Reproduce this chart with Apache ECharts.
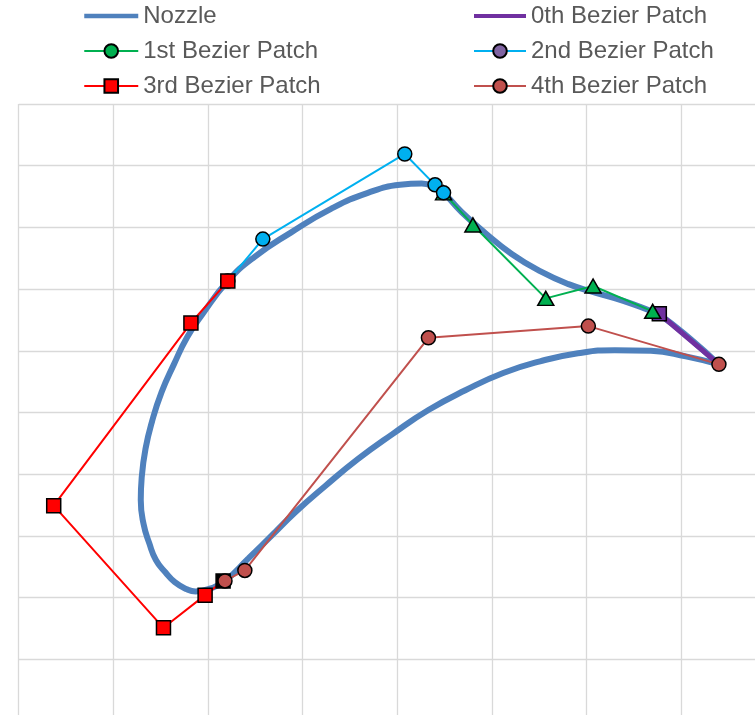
<!DOCTYPE html>
<html>
<head>
<meta charset="utf-8">
<script src="https://cdn.jsdelivr.net/npm/echarts@6/dist/echarts.min.js"></script>
<style>
  html, body { margin: 0; padding: 0; background: #ffffff; }
  #chart { width: 755px; height: 715px; }
</style>
</head>
<body>
<div id="chart"></div>
<script>
// Series names, in drawing order
const seriesNames = ['Nozzle', '0th Bezier Patch', '1st Bezier Patch',
                     '2nd Bezier Patch', '3rd Bezier Patch', '4th Bezier Patch'];

// Nozzle profile: trailing edge -> suction side -> leading edge -> pressure side -> trailing edge
const nozzle = [
  [7.40, 5.78], [7.10, 6.19], [6.77, 6.59], [6.69, 6.64], [6.39, 6.81],
  [6.10, 6.94], [5.81, 7.08], [5.51, 7.29], [5.21, 7.57], [4.93, 7.91],
  [4.68, 8.25], [4.49, 8.56], [4.41, 8.64], [4.26, 8.71], [4.03, 8.69],
  [3.69, 8.56], [3.30, 8.30], [2.88, 7.92], [2.49, 7.52], [2.21, 7.13],
  [1.94, 6.59], [1.78, 6.22], [1.64, 5.78], [1.51, 5.33], [1.41, 4.86],
  [1.34, 4.41], [1.30, 3.95], [1.29, 3.58], [1.32, 3.19], [1.38, 2.88],
  [1.45, 2.61], [1.55, 2.41], [1.65, 2.25], [1.77, 2.14], [1.87, 2.10],
  [2.03, 2.15], [2.18, 2.27], [2.43, 2.64], [2.67, 3.00], [2.92, 3.38],
  [3.24, 3.81], [3.58, 4.24], [3.95, 4.65], [4.33, 5.04], [4.72, 5.36],
  [5.12, 5.64], [5.51, 5.83], [5.91, 5.96], [6.30, 6.01], [6.68, 6.00],
  [7.05, 5.91], [7.40, 5.78]
];

// Control polygons of the Bezier patches
const patch0 = [[6.77, 6.60], [7.40, 5.78]];
const patch1 = [[4.49, 8.56], [4.80, 8.04], [5.57, 6.85], [6.07, 7.05], [6.70, 6.64]];
const patch2 = [[2.21, 7.13], [2.58, 7.81], [4.08, 9.19], [4.40, 8.69], [4.49, 8.56]];
const patch3 = [[2.21, 7.13], [1.82, 6.45], [0.37, 3.49], [1.53, 1.51], [1.97, 2.04], [2.16, 2.27]];
const patch4 = [[7.40, 5.78], [6.02, 6.40], [4.33, 6.21], [2.39, 2.44], [2.18, 2.27]];

// Axis ranges (gridlines only, no labels)
const xRange = [0, 8];
const yRange = [0, 10];

const FONT = 'Liberation Sans';
const BORDER = { borderColor: '#000000', borderWidth: 1.5 };

const chart = echarts.init(document.getElementById('chart'), null, { renderer: 'canvas' });

const legendText = { fontSize: 24, lineHeight: 26, color: '#595959', fontFamily: FONT };

chart.setOption({
  animation: false,
  backgroundColor: '#ffffff',
  legend: [
    {
      orient: 'vertical', left: 82, top: 3, padding: 0,
      itemWidth: 54, itemHeight: 17, itemGap: 9, selectedMode: false,
      textStyle: legendText,
      data: [
        { name: seriesNames[0], itemStyle: { opacity: 0 }, lineStyle: { width: 4.5 } },
        { name: seriesNames[2] },
        { name: seriesNames[4] }
      ]
    },
    {
      orient: 'vertical', left: 472, top: 3, padding: 0,
      itemWidth: 52, itemHeight: 17, itemGap: 9, selectedMode: false,
      textStyle: legendText,
      data: [
        { name: seriesNames[1], itemStyle: { opacity: 0 }, lineStyle: { width: 4 } },
        { name: seriesNames[3], itemStyle: { color: '#8064A2' } },
        { name: seriesNames[5] }
      ]
    }
  ],
  grid: { left: 18.7, top: 104, width: 757, height: 617, outerBoundsMode: 'none', containLabel: false },
  xAxis: {
    type: 'value', min: xRange[0], max: xRange[1], interval: 1,
    axisLine: { show: false }, axisTick: { show: false }, axisLabel: { show: false },
    splitLine: { show: true, lineStyle: { color: '#d9d9d9', width: 1.3 } }
  },
  yAxis: {
    type: 'value', min: yRange[0], max: yRange[1], interval: 1,
    axisLine: { show: false }, axisTick: { show: false }, axisLabel: { show: false },
    splitLine: { show: true, lineStyle: { color: '#d9d9d9', width: 1.3 } }
  },
  series: [
    {
      name: seriesNames[0], type: 'line', data: nozzle, smooth: 0.5,
      symbol: 'none',
      lineStyle: { color: '#4F81BD', width: 6 },
      itemStyle: { color: '#4F81BD' }
    },
    {
      name: seriesNames[1], type: 'line', symbol: 'none',
      data: patch0.map((p, i) => i === 0
        ? { value: p, symbol: 'rect', symbolSize: 14, itemStyle: { color: '#7030A0', ...BORDER } }
        : { value: p }),
      lineStyle: { color: '#7030A0', width: 5 },
      itemStyle: { color: '#7030A0' }
    },
    {
      name: seriesNames[2], type: 'line', symbol: 'circle', symbolSize: 13,
      data: patch1.map(p => ({ value: p, symbol: 'triangle', symbolSize: [16, 14] })),
      lineStyle: { color: '#00B050', width: 2 },
      itemStyle: { color: '#00B050', ...BORDER }
    },
    {
      name: seriesNames[3], type: 'line', symbol: 'circle', symbolSize: 14,
      data: patch2,
      lineStyle: { color: '#00B0F0', width: 2 },
      itemStyle: { color: '#00B0F0', ...BORDER }
    },
    {
      name: seriesNames[4], type: 'line', symbol: 'rect', symbolSize: 14,
      data: patch3.map((p, i) => i === patch3.length - 1
        ? { value: p, itemStyle: { color: '#000000', ...BORDER } }
        : { value: p }),
      lineStyle: { color: '#FF0000', width: 2 },
      itemStyle: { color: '#FF0000', ...BORDER }
    },
    {
      name: seriesNames[5], type: 'line', symbol: 'circle', symbolSize: 14,
      data: patch4,
      lineStyle: { color: '#C0504D', width: 2 },
      itemStyle: { color: '#C0504D', ...BORDER }
    }
  ]
});
</script>
</body>
</html>
